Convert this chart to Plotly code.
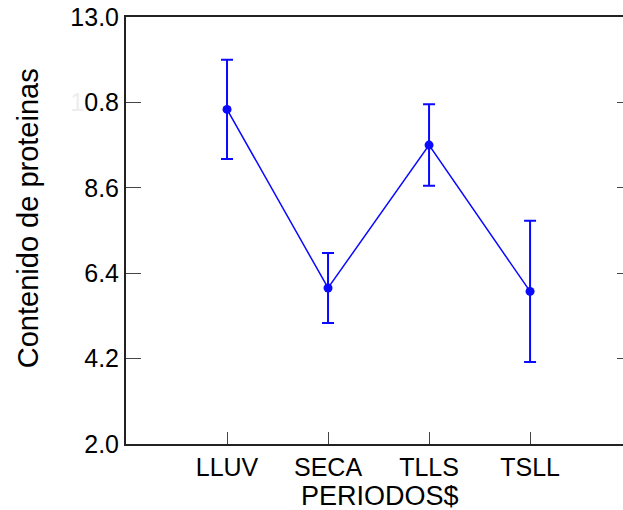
import plotly.graph_objects as go

periods = ["LLUV", "SECA", "TLLS", "TSLL"]
means = [10.62, 6.02, 9.70, 5.93]
errors = [1.28, 0.90, 1.05, 1.82]
y_ticks = [2.0, 4.2, 6.4, 8.6, 10.8, 13.0]
y_tick_text = ["2.0", "4.2", "6.4", "8.6", "<span style='color:#ededed'>1</span>0.8", "13.0"]

x_idx = list(range(len(periods)))
blue = "#0a0aff"
font_fam = "Liberation Sans, Arial, sans-serif"

fig = go.Figure()
fig.add_trace(go.Scatter(
    x=x_idx, y=means, mode="lines+markers",
    line=dict(color=blue, width=1.5),
    marker=dict(color=blue, size=9),
    error_y=dict(type="data", array=errors, visible=True, color=blue, thickness=2, width=6),
    showlegend=False,
))
# invisible trace to activate the right-hand tick axis
fig.add_trace(go.Scatter(x=[x_idx[0]], y=[means[0]], yaxis="y2", mode="markers",
                         marker=dict(opacity=0), showlegend=False, hoverinfo="skip"))

fig.update_layout(
    width=623, height=510,
    margin=dict(l=126, r=0, t=17, b=66),
    paper_bgcolor="white", plot_bgcolor="white",
    font=dict(family=font_fam, color="black"),
    xaxis=dict(
        range=[-1, 3.92], tickvals=x_idx, ticktext=periods,
        ticks="inside", ticklen=12, tickcolor="#444", tickwidth=1,
        showline=True, linecolor="#222", linewidth=2, mirror=True,
        showgrid=False, zeroline=False,
        tickfont=dict(size=25, family=font_fam),
    ),
    yaxis=dict(
        range=[2, 13], tickvals=y_ticks, ticktext=y_tick_text,
        ticks="inside", ticklen=15, tickcolor="#444", tickwidth=1,
        showline=True, linecolor="#222", linewidth=2, mirror=False,
        showgrid=False, zeroline=False,
        tickfont=dict(size=25, family=font_fam),
    ),
    yaxis2=dict(
        range=[2, 13], tickvals=y_ticks, overlaying="y", side="right",
        ticks="inside", ticklen=6, tickcolor="#444", tickwidth=1,
        showticklabels=False, showline=False, showgrid=False, zeroline=False,
    ),
    annotations=[
        dict(text="PERIODOS$", xref="paper", yref="paper", x=0.511, y=-0.121,
             xanchor="center", yanchor="middle", showarrow=False,
             font=dict(size=27, family=font_fam, color="black")),
        dict(text="Contenido de proteinas", xref="paper", yref="paper", x=-0.197, y=0.529,
             xanchor="center", yanchor="middle", textangle=-90, showarrow=False,
             font=dict(size=29, family=font_fam, color="black")),
    ],
)

fig.write_html("out.html")
